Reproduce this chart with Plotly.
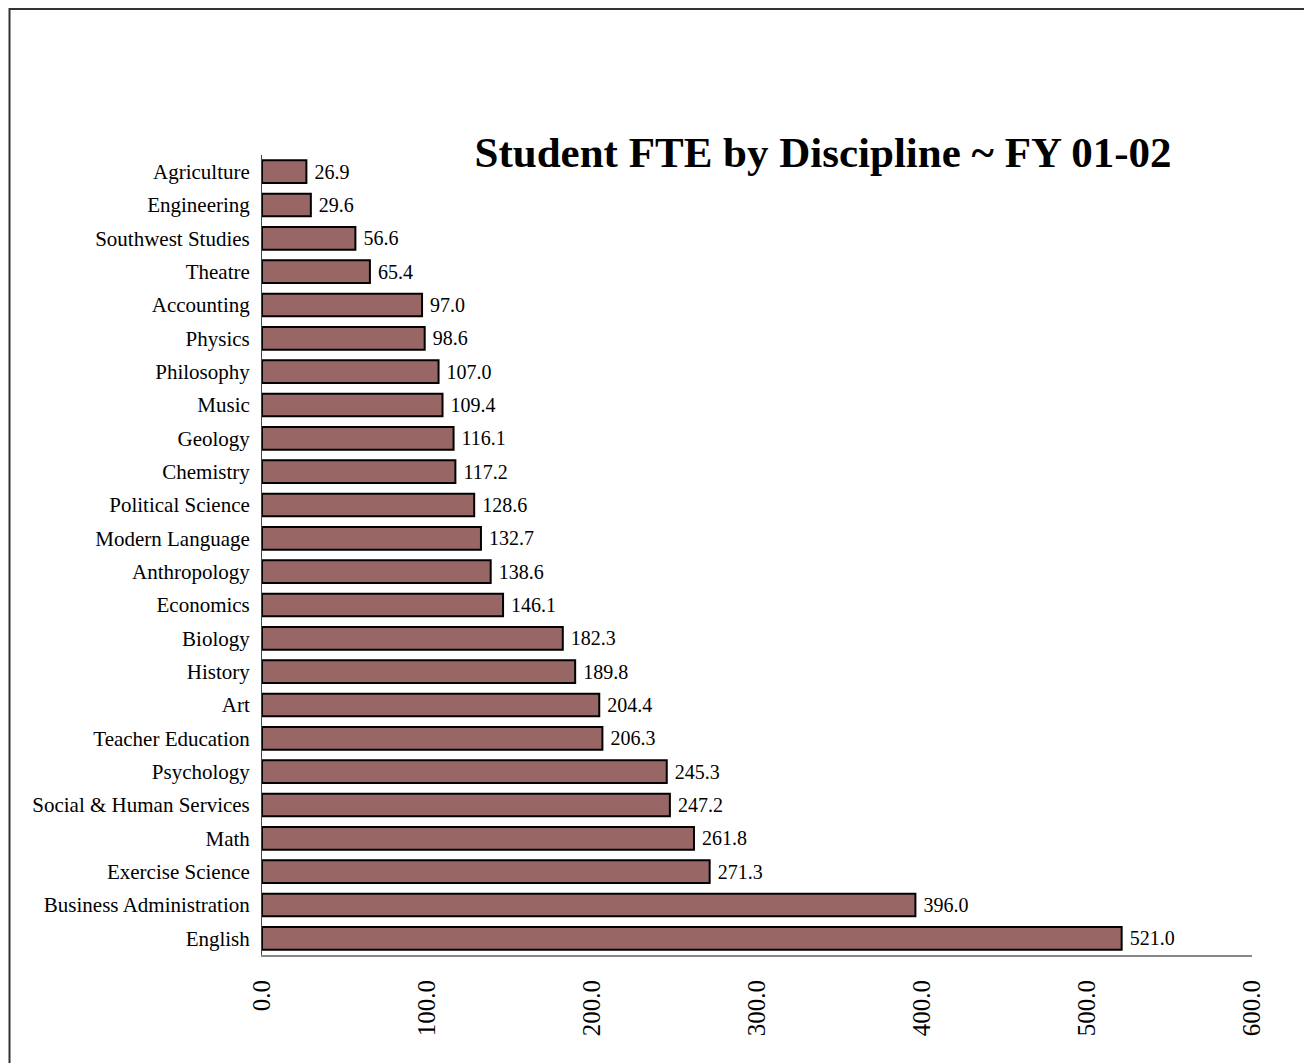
import plotly.graph_objects as go

disciplines = ["Agriculture", "Engineering", "Southwest Studies", "Theatre", "Accounting",
               "Physics", "Philosophy", "Music", "Geology", "Chemistry", "Political Science",
               "Modern Language", "Anthropology", "Economics", "Biology", "History", "Art",
               "Teacher Education", "Psychology", "Social & Human Services", "Math",
               "Exercise Science", "Business Administration", "English"]
fte = [26.9, 29.6, 56.6, 65.4, 97.0, 98.6, 107.0, 109.4, 116.1, 117.2, 128.6, 132.7,
       138.6, 146.1, 182.3, 189.8, 204.4, 206.3, 245.3, 247.2, 261.8, 271.3, 396.0, 521.0]
x_ticks = [0, 100, 200, 300, 400, 500, 600]

FONT = "Liberation Serif, Times New Roman, serif"

W, H = 1304, 1055
ML, MR, MT, MB = 254, 60, 147, 108
PW = W - ML - MR
PH = H - MT - MB

fig = go.Figure(go.Bar(
    x=fte, y=disciplines, orientation="h",
    marker=dict(color="#996666", line=dict(color="#000000", width=2)),
    width=0.68,
    text=[f" {v:.1f}" for v in fte], textposition="outside",
    textfont=dict(family=FONT, size=20, color="#000000"),
    cliponaxis=False,
))

fig.update_layout(
    width=W, height=H,
    margin=dict(l=ML, r=MR, t=MT, b=MB),
    paper_bgcolor="white", plot_bgcolor="white",
    font=dict(family=FONT, color="#000000"),
    showlegend=False,
    title=dict(text="<b>Student FTE by Discipline ~ FY 01-02</b>",
               font=dict(family=FONT, size=43, color="#000000"),
               x=(823 - 262) / PW, xref="paper", xanchor="center",
               y=1 - (152 - 8) / H, yref="container", yanchor="middle"),
    xaxis=dict(range=[0, 600], tickvals=x_ticks, tickformat=".1f", tickangle=-90,
               showgrid=False, zeroline=False, showline=True, linecolor="#888888",
               linewidth=2, ticks="", ticklabelstandoff=13,
               tickfont=dict(family=FONT, size=25, color="#000000")),
    yaxis=dict(autorange="reversed", showgrid=False, zeroline=False, showline=True,
               linecolor="#444444", linewidth=1, ticks="", ticklabelstandoff=7,
               tickfont=dict(family=FONT, size=21, color="#000000")),
    shapes=[dict(type="rect", xref="paper", yref="paper",
                 x0=(1.5 - ML) / PW, x1=1.2, y0=-0.3, y1=(955 - 9) / PH,
                 line=dict(color="#333333", width=2), fillcolor="rgba(0,0,0,0)",
                 layer="above")],
)

fig.write_html("out.html")
